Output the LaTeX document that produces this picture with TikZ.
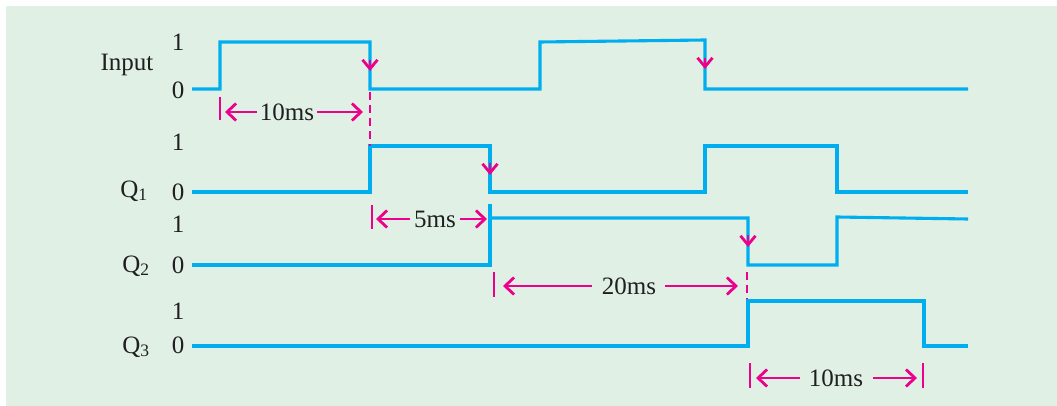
\documentclass[tikz,border=0pt]{standalone}
\usepackage{fontspec}
\setmainfont{Liberation Serif}
\usetikzlibrary{arrows.meta}
\definecolor{bg}{HTML}{E1F0E5}
\definecolor{wave}{HTML}{00AEEF}
\definecolor{mag}{HTML}{EC008C}
\tikzset{
  wavepath/.style={draw=wave, line width=3.1pt, line join=miter},
  lbl/.style={font=\fontsize{25}{28}\selectfont, text=black!88, inner sep=0pt},
  dim/.style={draw=mag, line width=2.8pt, -{Straight Barb[length=9pt,width=17pt,line width=2.8pt]}},
  bar/.style={draw=mag, line width=2.8pt},
  dashmark/.style={draw=mag, line width=2.8pt, dash pattern=on 8pt off 5pt},
  edgemark/.style={draw=mag, line width=2.8pt, -{Straight Barb[length=9pt,width=15pt,line width=2.8pt]}},
}
\begin{document}
\begin{tikzpicture}[x=1pt,y=-1pt]
\useasboundingbox (0,0) rectangle (1057,406);
\fill[white] (0,0) rectangle (1057,406);
\fill[bg] (6,6) rectangle (1057,406);

% labels
\node[lbl] (inp) at (127,65) {Input};
\node[lbl] (i1) at (178,42) {1};
\node[lbl] (i0) at (178,90) {0};
\node[lbl] (q1) at (134,191) {Q\textsubscript{1}};
\node[lbl] (a1) at (178,142) {1};
\node[lbl] (a0) at (178,192) {0};
\node[lbl] (q2) at (136,266) {Q\textsubscript{2}};
\node[lbl] (b1) at (178,224) {1};
\node[lbl] (b0) at (178,265) {0};
\node[lbl] (q3) at (136,347) {Q\textsubscript{3}};
\node[lbl] (c1) at (178,311) {1};
\node[lbl] (c0) at (178,345) {0};

% waveforms
\draw[wavepath] (192,89) -- (220,89) -- (220,42) -- (370,42) -- (370,89) -- (540,89) -- (540,42) -- (705,40) -- (705,89) -- (968,89);
\draw[wavepath] (192,192) -- (370,192) -- (370,146) -- (490,146) -- (490,192) -- (705,192) -- (705,146) -- (837,146) -- (837,192) -- (968,192);
\draw[wavepath] (192,265) -- (490,265) -- (490,204);
\draw[wavepath] (490,218) -- (748,218) -- (748,265) -- (837,265) -- (837,217) -- (968,219);
\draw[wavepath] (192,346) -- (748,346) -- (748,301) -- (924,301) -- (924,346) -- (968,346);

% edge markers
\draw[edgemark] (370,60) -- (370,71);
\draw[edgemark] (490,163) -- (490,175);
\draw[edgemark] (705,58) -- (705,69);
\draw[edgemark] (748,235) -- (748,247);

% dashed extension lines
\draw[dashmark] (370,92) -- (370,146);
\draw[dashmark] (747,272) -- (747,299);

% 10ms (top)
\coordinate (d1l) at (220,112);
\coordinate (d1r) at (370,112);
\draw[bar] (220,97) -- (220,120);
\node[lbl] (t1) at (287,112) {10ms};
\draw[dim] ([xshift=-3pt]t1.west) -- ([xshift=5pt]d1l);
\draw[dim] ([xshift=3pt]t1.east) -- ([xshift=-7pt]d1r);

% 5ms
\coordinate (d2l) at (372,219);
\coordinate (d2r) at (490,219);
\draw[bar] (372,205) -- (372,229);
\node[lbl] (t2) at (435,219) {5ms};
\draw[dim] ([xshift=-4pt]t2.west) -- ([xshift=4pt]d2l);
\draw[dim] ([xshift=4pt]t2.east) -- ([xshift=-3pt]d2r);

% 20ms
\coordinate (d3l) at (494,286);
\coordinate (d3r) at (747,286);
\draw[bar] (494,272) -- (494,297);
\node[lbl] (t3) at (629,286) {20ms};
\draw[dim] ([xshift=-10pt]t3.west) -- ([xshift=9pt]d3l);
\draw[dim] ([xshift=9pt]t3.east) -- ([xshift=-9pt]d3r);

% 10ms (bottom)
\coordinate (d4l) at (750,378);
\coordinate (d4r) at (923,378);
\draw[bar] (750,363) -- (750,388);
\draw[bar] (923,363) -- (923,388);
\node[lbl] (t4) at (836,378) {10ms};
\draw[dim] ([xshift=-9pt]t4.west) -- ([xshift=6pt]d4l);
\draw[dim] ([xshift=10pt]t4.east) -- ([xshift=-6pt]d4r);
\end{tikzpicture}
\end{document}
